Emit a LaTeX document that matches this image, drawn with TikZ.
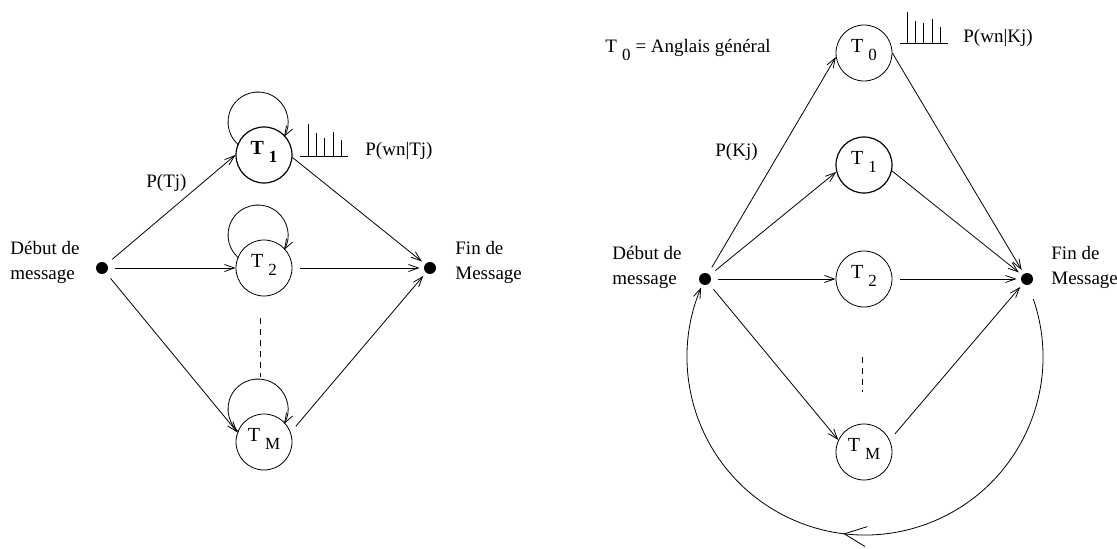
\documentclass[tikz,border=0pt]{standalone}
\usepackage{fontspec}
\setmainfont{Liberation Serif}
\usetikzlibrary{arrows.meta,decorations.markings}
\newcommand\Tlab[1]{T\hspace{5pt}\raisebox{-8pt}{\fontsize{17}{17}\selectfont #1}}
\begin{document}
\begin{tikzpicture}[x=1pt,y=1pt, line width=0.8pt,
  state/.style={circle, draw, minimum size=56pt, inner sep=0pt, text height=10pt, text depth=10pt, font=\fontsize{20}{23}\selectfont},
  thickstate/.style={state, line width=1.2pt},
  dot/.style={circle, fill, inner sep=0pt, minimum size=12pt},
  txt/.style={anchor=base west, inner sep=0pt, font=\fontsize{19}{23}\selectfont},
  arr/.style={-{Straight Barb[length=10pt,width=7pt]}},
  dashline/.style={dash pattern=on 6pt off 5pt},
  bigtip/.style={postaction={decorate}, decoration={markings, mark=at position 0.5225 with {\arrow{Straight Barb[length=22pt,width=20pt]}}}}
]
\useasboundingbox (0,0) rectangle (1117,549);

% ---------------- left diagram ----------------
\node[dot] (D1) at (102,281) {};
\node[thickstate] (T1) at (264,394) {\bfseries\Tlab{1}};
\node[state] (T2) at (264,281) {\Tlab{2}};
\node[state] (TM) at (264,107) {\Tlab{M}};
\node[dot] (F1) at (430,281) {};

\node[txt] (ld1) at (10,294) {Début de};
\node[txt] (ld2) at (10,269) {message};
\node[txt] (lf1) at (455,294) {Fin de};
\node[txt] (lf2) at (455,269) {Message};
\node[txt] (lptj) at (146,361) {P(Tj)};
\node[txt] (lpw) at (365,393) {P(wn|Tj)};

\draw[arr, shorten <=7pt] (D1) -- (T1.180);
\draw[arr, shorten <=7pt] (D1) -- (T2);
\draw[arr, shorten <=7pt] (D1) -- (TM.160);
\draw[arr, shorten >=4pt] (T1.-5) -- (F1);
\draw[arr, shorten <=8pt, shorten >=4pt] (T2) -- (F1);
\draw[arr, shorten <=8pt, shorten >=4pt] (TM.20) -- (F1);

\foreach \n in {T1,T2,TM}{
  \draw[arr] (\n.center) ++(-6,33) ++(230:30) arc[start angle=230,end angle=-30,radius=30];
}

\draw[dashline] (260,231) -- (260,172);

\draw (300,393) -- (348,393);
\foreach \dx/\h in {8/32,16/23,24/18,33/24,41/16}
  \draw (300+\dx,393) -- ++(0,\h);

% ---------------- right diagram ----------------
\node[dot] (D2) at (705,270) {};
\node[state] (R0) at (864,496) {\Tlab{0}};
\node[thickstate] (R1) at (864,384) {\Tlab{1}};
\node[state] (R2) at (864,270) {\Tlab{2}};
\node[state] (RM) at (864,97) {\Tlab{M}};
\node[dot] (F2) at (1027,270) {};

\node[txt] (rdef) at (605,496) {\Tlab{0}\hspace{5pt}= Anglais général};
\node[txt] (rd1) at (612,289) {Début de};
\node[txt] (rd2) at (612,264) {message};
\node[txt] (rf1) at (1051,289) {Fin de};
\node[txt] (rf2) at (1051,264) {Message};
\node[txt] (rpkj) at (715,392) {P(Kj)};
\node[txt] (rpw) at (963,506) {P(wn|Kj)};

\draw[arr, shorten <=7pt] (D2) -- (R0.188);
\draw[arr, shorten <=7pt] (D2) -- (R1.194);
\draw[arr, shorten <=7pt] (D2) -- (R2);
\draw[arr, shorten <=7pt] (D2) -- (RM.155);
\draw[arr, shorten >=4pt] (R0.0) -- (F2);
\draw[arr, shorten >=4pt] (R1.-12) -- (F2);
\draw[arr, shorten <=8pt, shorten >=4pt] (R2) -- (F2);
\draw[arr, shorten <=8pt, shorten >=4pt] (RM.25) -- (F2);

\draw[dashline] (862,192) -- (862,157);

\draw (900,506) -- (948,506);
\foreach \dx/\h in {7/31,15/22,23/20,32/24,40/16}
  \draw (900+\dx,506) -- ++(0,\h);

\coordinate (C) at (865,192);
\path (C) ++(19:178) coordinate (arcS);
\draw[arr, bigtip] (arcS) arc[start angle=19,end angle=-203,radius=178];
\end{tikzpicture}
\end{document}
